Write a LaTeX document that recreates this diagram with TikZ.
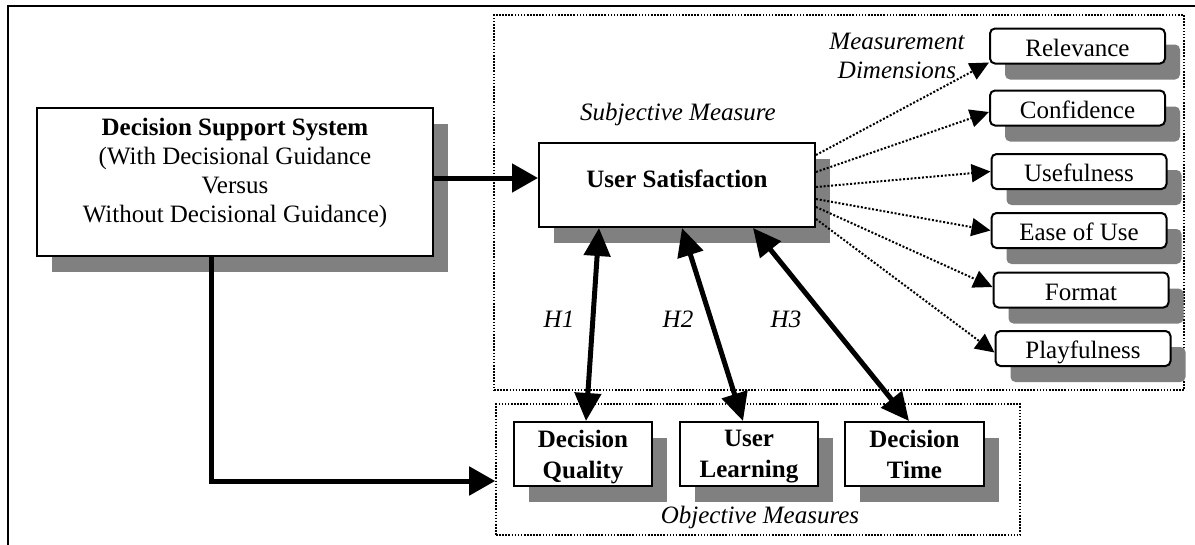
\documentclass[tikz,border=0pt]{standalone}
\usepackage{fontspec}
\setmainfont{Liberation Serif}
\usetikzlibrary{arrows.meta,shadows,calc}
\definecolor{shadowgray}{RGB}{128,128,128}
\newcommand{\dgfont}{\fontsize{25}{30}\selectfont}
\begin{document}
\begin{tikzpicture}[x=1pt,y=-1pt,
  font=\dgfont,
  sh/.style={drop shadow={shadow xshift=15pt,shadow yshift=-16pt,fill=shadowgray,opacity=1}},
  box/.style={draw=black,line width=2pt,fill=white,inner sep=0pt,sh},
  rbox/.style={box,rounded corners=5pt,minimum width=175pt,minimum height=35pt,text height=20pt,text depth=0pt},
  obox/.style={box,minimum width=138pt,minimum height=64pt},
  txt/.style={inner sep=0pt,align=center},
  grp/.style={draw=black,line width=1.6pt,dash pattern=on 1.6pt off 1.5pt,inner sep=0pt},
  thickarrow/.style={line width=5pt,-{Triangle[length=26pt,width=28pt]}},
  dblarrow/.style={line width=5pt,{Triangle[length=28pt,width=26pt]}-{Triangle[length=28pt,width=26pt]}},
  dotarrow/.style={line width=2pt,dash pattern=on 2pt off 1.8pt,-{Triangle[length=19pt,width=18pt]}},
]
\useasboundingbox (0,0) rectangle (1195,544);
% outer frame
\draw[line width=2.5pt] (8,560) -- (8,6) -- (1210,6);
% groups
\node[grp,minimum width=690pt,minimum height=375pt] (subj) at (839,202.5) {};
\node[grp,minimum width=524pt,minimum height=131pt] (obj) at (758,469.5) {};
% DSS
\node[box,minimum width=396pt,minimum height=148pt] (dss) at (235,182) {};
\node[txt,anchor=north,font=\fontsize{25}{29}\selectfont] (dsstext) at (235,118)
  {\textbf{Decision Support System}\\(With Decisional Guidance\\Versus\\Without Decisional Guidance)};
% user satisfaction
\node[box,minimum width=276pt,minimum height=84pt,text height=9pt,text depth=5pt,font=\dgfont\bfseries] (us) at (677,185) {User Satisfaction};
% right boxes
\node[rbox] (rel) at (1077.5,46) {Relevance};
\node[rbox] (conf) at (1077.5,108) {Confidence};
\node[rbox] (use) at (1079,171.5) {Usefulness};
\node[rbox] (ease) at (1079,230.5) {Ease of Use};
\node[rbox] (fmt) at (1081,290) {Format};
\node[rbox] (play) at (1083,348.5) {Playfulness};
% objective boxes
\node[obox] (dq) at (583,454) {};
\node[obox] (ul) at (749,454) {};
\node[obox,minimum width=139pt] (dt) at (914.5,454) {};
\node[txt,anchor=north,font=\fontsize{25}{31}\selectfont\bfseries] (dqtext) at (583,430) {Decision\\Quality};
\node[txt,anchor=north,font=\fontsize{25}{31}\selectfont\bfseries] (ultext) at (749,430) {User\\Learning};
\node[txt,anchor=north,font=\fontsize{25}{31}\selectfont\bfseries] (dttext) at (914.5,430) {Decision\\Time};
% labels
\node[txt,anchor=base,font=\dgfont\itshape] (subjlbl) at (678,120) {Subjective Measure};
\node[txt,anchor=north,font=\fontsize{25}{29}\selectfont\itshape] (mdlbl) at (897,33) {Measurement\\Dimensions};
\node[txt,anchor=base,font=\dgfont\itshape] (h1) at (559,327) {H1};
\node[txt,anchor=base,font=\dgfont\itshape] (h2) at (678,327) {H2};
\node[txt,anchor=base,font=\dgfont\itshape] (h3) at (786,327) {H3};
\node[txt,anchor=base,font=\dgfont\itshape] (objlbl) at (760,523) {Objective Measures};
% dotted connectors
\draw[dotarrow] ($(us.east)+(0,-30)$) -- ($(rel.south west)+(0,-2)$);
\draw[dotarrow] ($(us.east)+(0,-13)$) -- ($(conf.west)+(0,4)$);
\draw[dotarrow] ($(us.east)+(0,2)$) -- (use.west);
\draw[dotarrow] ($(us.east)+(0,14)$) -- (ease.west);
\draw[dotarrow] ($(us.east)+(0,22)$) -- ($(fmt.west)+(0,-3)$);
\draw[dotarrow] ($(us.east)+(0,34)$) -- ($(play.west)+(0,4)$);
% thick connectors
\draw[thickarrow] ($(dss.east)+(0,-4)$) -- ($(us.west)+(0,-7)$);
\draw[thickarrow] ($(dss.south west)+(175,0)$) |- ($(obj.west)+(0,11.5)$);
\draw[dblarrow] ($(us.south west)+(61,0)$) -- ($(dq.north west)+(73,0)$);
\draw[dblarrow] ($(us.south west)+(144,0)$) -- ($(ul.north west)+(64,0)$);
\draw[dblarrow] ($(us.south west)+(215,0)$) -- ($(dt.north west)+(65,0)$);
\end{tikzpicture}
\end{document}
